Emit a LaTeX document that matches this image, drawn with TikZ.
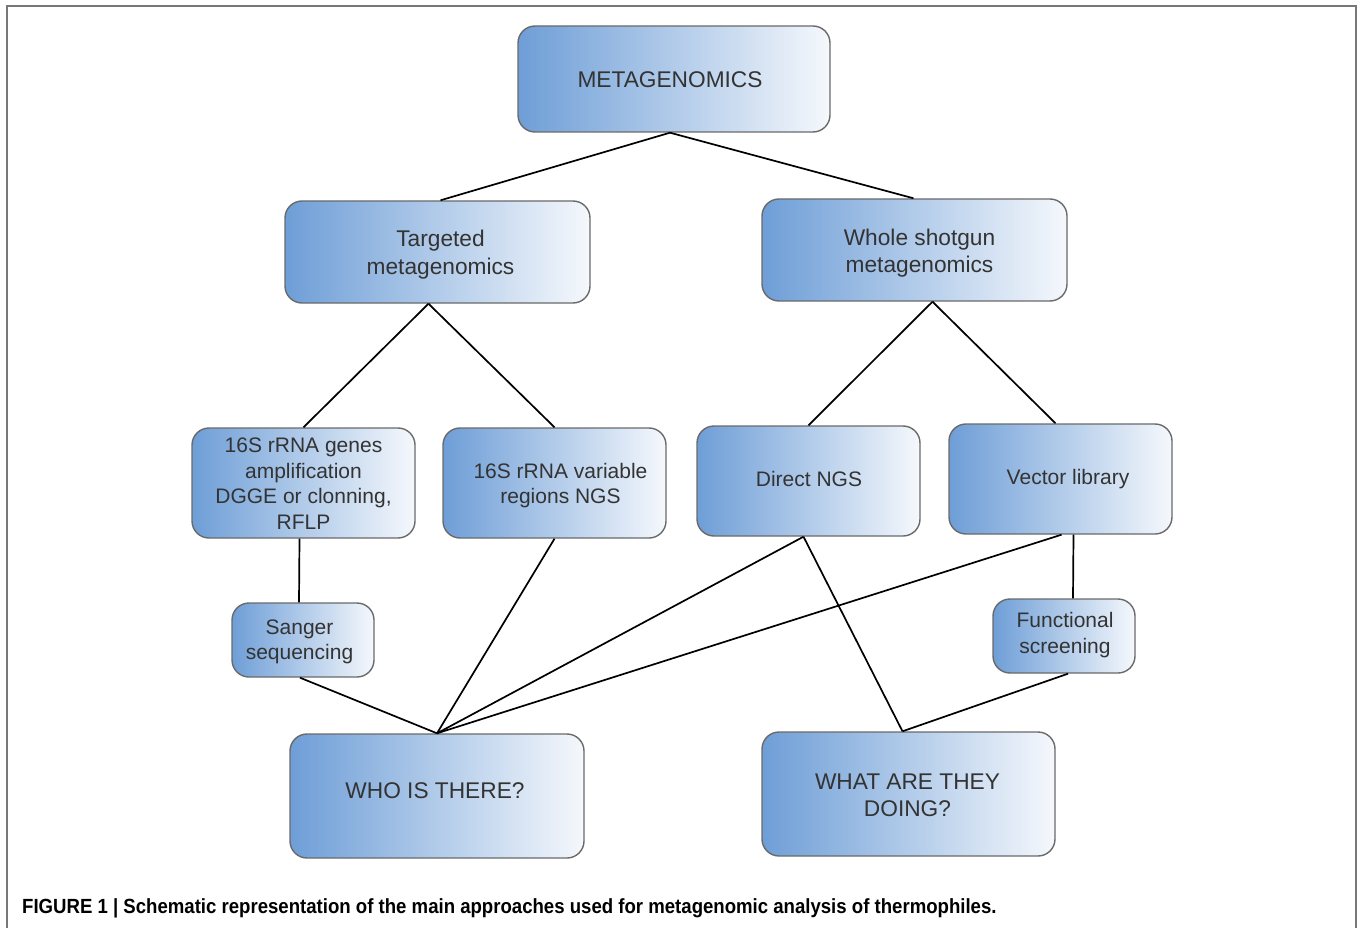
\documentclass[tikz,border=0pt]{standalone}
\usepackage{fontspec}
\setmainfont{Liberation Sans}
\definecolor{boxL}{HTML}{6E9ED7}
\definecolor{boxR}{HTML}{F5F8FC}
\definecolor{boxB}{HTML}{6A6A6A}
\definecolor{txt}{HTML}{333333}
\definecolor{frame}{HTML}{777777}
\tikzset{
  box/.style={rounded corners=17pt, draw=boxB, line width=1.4pt, left color=boxL, right color=boxR,
    inner sep=0pt},
  tsmall/.style={align=center, inner sep=0pt, text=txt, font=\fontsize{21}{25.5}\selectfont},
  tbig/.style={align=center, inner sep=0pt, text=txt, font=\fontsize{22.7}{27.5}\selectfont},
  link/.style={line width=1.7pt, black}
}
\begin{document}
\begin{tikzpicture}[x=1pt,y=-1pt]
\useasboundingbox (0,0) rectangle (1360,928);
\draw[frame, line width=2pt] (7,930) -- (7,6) -- (1356,6) -- (1356,930);
% boxes
\node[box, minimum width=312pt, minimum height=106pt] (meta) at (674,79) {};
\node[box, minimum width=305pt, minimum height=102pt] (tgt) at (437.5,252) {};
\node[box, minimum width=305pt, minimum height=102pt] (wsg) at (914.5,250) {};
\node[box, minimum width=223pt, minimum height=110pt] (gen) at (303.5,483) {};
\node[box, minimum width=223pt, minimum height=110pt] (var) at (554.5,483) {};
\node[box, minimum width=223pt, minimum height=110pt] (dng) at (808.5,481) {};
\node[box, minimum width=223pt, minimum height=110pt] (vec) at (1060.5,479) {};
\node[box, minimum width=142pt, minimum height=74pt] (san) at (303,640) {};
\node[box, minimum width=142pt, minimum height=74pt] (fun) at (1064,636) {};
\node[box, minimum width=294pt, minimum height=124pt] (who) at (437,796) {};
\node[box, minimum width=293pt, minimum height=124pt] (what) at (908.5,794) {};
% texts
\node[tbig] (meta-t) at ([xshift=-4pt,yshift=-1pt]meta.center) {METAGENOMICS};
\node[tbig, font=\fontsize{22.7}{28}\selectfont] (tgt-t) at ([xshift=3pt,yshift=-3pt]tgt.center) {Targeted\\metagenomics};
\node[tbig, font=\fontsize{22.7}{27}\selectfont] (wsg-t) at ([xshift=5pt,yshift=-3.5pt]wsg.center) {Whole shotgun\\metagenomics};
\node[tsmall] (gen-t) at ([xshift=0pt,yshift=-0.5pt]gen.center) {16S rRNA genes\\amplification\\DGGE or clonning,\\RFLP};
\node[tsmall] (var-t) at ([xshift=6pt,yshift=-2.5pt]var.center) {16S rRNA variable\\regions NGS};
\node[tsmall] (dng-t) at ([xshift=0.5pt,yshift=2pt]dng.center) {Direct NGS};
\node[tsmall] (vec-t) at ([xshift=7.5pt,yshift=0pt]vec.center) {Vector library};
\node[tsmall] (san-t) at ([xshift=-3.5pt,yshift=-2pt]san.center) {Sanger\\sequencing};
\node[tsmall] (fun-t) at ([xshift=1pt,yshift=1pt]fun.center) {Functional\\screening};
\node[tbig] (who-t) at ([xshift=-2pt,yshift=5pt]who.center) {WHO IS THERE?};
\node[tbig, font=\fontsize{22.7}{27}\selectfont] (what-t) at ([xshift=-1pt,yshift=-1.5pt]what.center) {WHAT ARE THEY\\DOING?};
% connectors
\draw[link] ([xshift=-4pt]meta.south) -- ([xshift=3pt]tgt.north);
\draw[link] ([xshift=-4pt]meta.south) -- ([xshift=-1pt]wsg.north);
\draw[link] ([xshift=-9pt]tgt.south) -- (gen.north);
\draw[link] ([xshift=-9pt]tgt.south) -- (var.north);
\draw[link] ([xshift=18pt]wsg.south) -- (dng.north);
\draw[link] ([xshift=18pt]wsg.south) -- ([xshift=-5pt]vec.north);
\draw[link] ([xshift=-4pt]gen.south) -- ([xshift=-4pt]san.north);
\draw[link] ([xshift=13pt]vec.south) -- ([xshift=9pt]fun.north);
\draw[link] ([xshift=-3pt]san.south) -- (who.north);
\draw[link] (var.south) -- (who.north);
\draw[link] ([xshift=-5pt]dng.south) -- (who.north);
\draw[link] ([xshift=1pt]vec.south) -- (who.north);
\draw[link] ([xshift=-5pt]dng.south) -- ([xshift=-6pt]what.north);
\draw[link] ([xshift=4pt]fun.south) -- ([xshift=-6pt]what.north);
\node[anchor=west, inner sep=0pt, font=\bfseries\fontsize{20.5}{24}\selectfont] (cap) at (22,908)
  {\scalebox{0.907}[1]{FIGURE 1 | Schematic representation of the main approaches used for metagenomic analysis of thermophiles.}};
\end{tikzpicture}
\end{document}
